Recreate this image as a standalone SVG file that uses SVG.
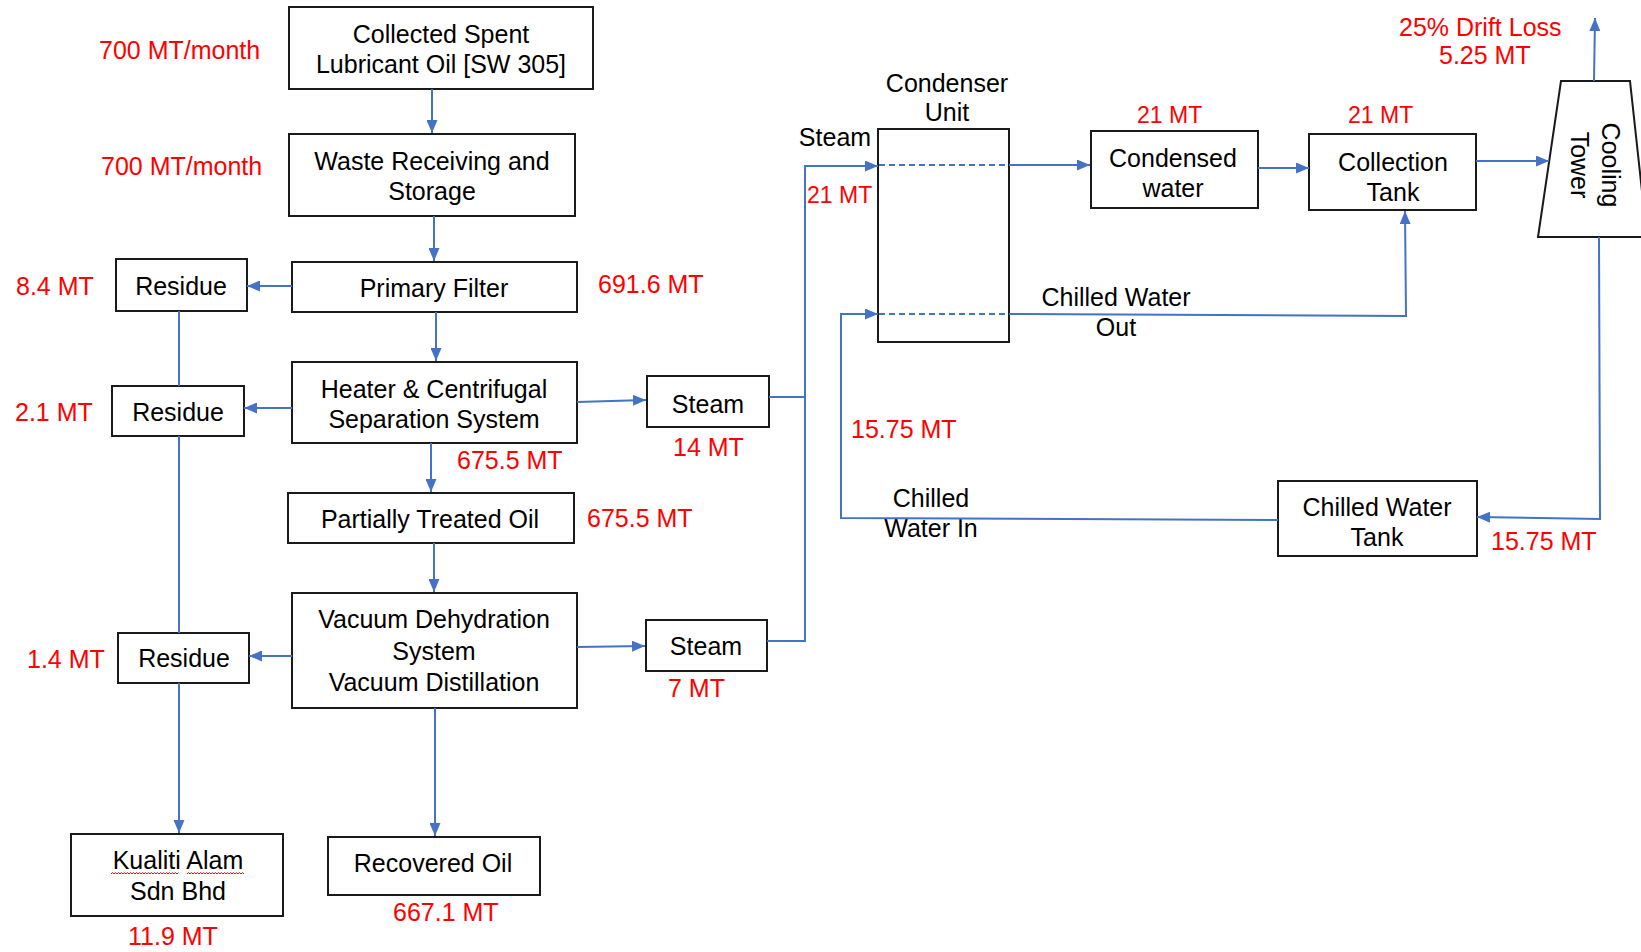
<svg xmlns="http://www.w3.org/2000/svg" width="1641" height="952" viewBox="0 0 1641 952">
<defs>
<marker id="ah" markerUnits="userSpaceOnUse" markerWidth="13" markerHeight="11" refX="13" refY="5.5" orient="auto">
<path d="M0,0 L13,5.5 L0,11 z" fill="#4472C4"/>
</marker>
<style>
.box{fill:#fff;stroke:#1a1a1a;stroke-width:2}
.t{font-family:"Liberation Sans",Arial,sans-serif;font-size:25px;fill:#000;text-anchor:middle}
.r{font-family:"Liberation Sans",Arial,sans-serif;font-size:25px;fill:#FF0000}
.ln{fill:none;stroke:#4472C4;stroke-width:2}
.ar{fill:none;stroke:#4472C4;stroke-width:2;marker-end:url(#ah)}
.ds{fill:none;stroke:#4472C4;stroke-width:2;stroke-dasharray:6 4}
</style>
</defs>
<rect width="1641" height="952" fill="#fff"/>

<g id="n-collected">
<rect class="box" x="289" y="7" width="304" height="82"/>
<text class="t" x="441" y="43">Collected Spent</text>
<text class="t" x="441" y="73">Lubricant Oil [SW 305]</text>
<text class="r" x="99" y="59">700 MT/month</text>
</g>
<g id="n-waste">
<rect class="box" x="289" y="134" width="286" height="82"/>
<text class="t" x="432" y="170">Waste Receiving and</text>
<text class="t" x="432" y="200">Storage</text>
<text class="r" x="101" y="175">700 MT/month</text>
</g>
<g id="n-primary">
<rect class="box" x="292" y="262" width="285" height="50"/>
<text class="t" x="434" y="297">Primary Filter</text>
<text class="r" x="598" y="293">691.6 MT</text>
</g>
<g id="n-residue1">
<rect class="box" x="116" y="259" width="131" height="52"/>
<text class="t" x="181" y="295">Residue</text>
<text class="r" x="16" y="295">8.4 MT</text>
</g>
<g id="n-heater">
<rect class="box" x="292" y="362" width="285" height="81"/>
<text class="t" x="434" y="398">Heater &amp; Centrifugal</text>
<text class="t" x="434" y="428">Separation System</text>
<text class="r" x="457" y="469">675.5 MT</text>
</g>
<g id="n-residue2">
<rect class="box" x="112" y="386" width="132" height="50"/>
<text class="t" x="178" y="421">Residue</text>
<text class="r" x="15" y="421">2.1 MT</text>
</g>
<g id="n-steam1">
<rect class="box" x="647" y="376" width="122" height="51"/>
<text class="t" x="708" y="413">Steam</text>
<text class="r" x="673" y="456">14 MT</text>
</g>
<g id="n-partial">
<rect class="box" x="288" y="493" width="286" height="50"/>
<text class="t" x="430" y="528">Partially Treated Oil</text>
<text class="r" x="587" y="527">675.5 MT</text>
</g>
<g id="n-vacuum">
<rect class="box" x="292" y="593" width="285" height="115"/>
<text class="t" x="434" y="628">Vacuum Dehydration</text>
<text class="t" x="434" y="660">System</text>
<text class="t" x="434" y="691">Vacuum Distillation</text>
</g>
<g id="n-residue3">
<rect class="box" x="118" y="633" width="131" height="50"/>
<text class="t" x="184" y="667">Residue</text>
<text class="r" x="27" y="668">1.4 MT</text>
</g>
<g id="n-steam2">
<rect class="box" x="646" y="620" width="121" height="51"/>
<text class="t" x="706" y="655">Steam</text>
<text class="r" x="668" y="697">7 MT</text>
</g>
<g id="n-recovered">
<rect class="box" x="328" y="837" width="212" height="58"/>
<text class="t" x="433" y="872">Recovered Oil</text>
<text class="r" x="393" y="921">667.1 MT</text>
</g>
<g id="n-kualiti">
<rect class="box" x="71" y="834" width="212" height="82"/>
<text class="t" x="178" y="869">Kualiti Alam</text>
<text class="t" x="178" y="900">Sdn Bhd</text>
<path d="M111,874 l1.5,-1.5 l1.5,1.5 l1.5,-1.5 l1.5,1.5 l1.5,-1.5 l1.5,1.5 l1.5,-1.5 l1.5,1.5 l1.5,-1.5 l1.5,1.5 l1.5,-1.5 l1.5,1.5 l1.5,-1.5 l1.5,1.5 l1.5,-1.5 l1.5,1.5 l1.5,-1.5 l1.5,1.5 l1.5,-1.5 l1.5,1.5 l1.5,-1.5 l1.5,1.5 l1.5,-1.5 l1.5,1.5 l1.5,-1.5 l1.5,1.5 l1.5,-1.5 l1.5,1.5 l1.5,-1.5 l1.5,1.5 l1.5,-1.5 l1.5,1.5 l1.5,-1.5 l1.5,1.5 l1.5,-1.5 l1.5,1.5 l1.5,-1.5 l1.5,1.5 l1.5,-1.5 l1.5,1.5 l1.5,-1.5 l1.5,1.5 l1.5,-1.5 l1.5,1.5 l1.5,-1.5" fill="none" stroke="#FF0000" stroke-width="1"/>
<path d="M187,874 l1.5,-1.5 l1.5,1.5 l1.5,-1.5 l1.5,1.5 l1.5,-1.5 l1.5,1.5 l1.5,-1.5 l1.5,1.5 l1.5,-1.5 l1.5,1.5 l1.5,-1.5 l1.5,1.5 l1.5,-1.5 l1.5,1.5 l1.5,-1.5 l1.5,1.5 l1.5,-1.5 l1.5,1.5 l1.5,-1.5 l1.5,1.5 l1.5,-1.5 l1.5,1.5 l1.5,-1.5 l1.5,1.5 l1.5,-1.5 l1.5,1.5 l1.5,-1.5 l1.5,1.5 l1.5,-1.5 l1.5,1.5 l1.5,-1.5 l1.5,1.5 l1.5,-1.5 l1.5,1.5 l1.5,-1.5 l1.5,1.5 l1.5,-1.5 l1.5,1.5" fill="none" stroke="#FF0000" stroke-width="1"/>
<text class="r" x="128" y="945">11.9 MT</text>
</g>
<g id="n-condenser">
<rect class="box" x="878" y="129" width="131" height="213"/>
<text class="t" x="947" y="92">Condenser</text>
<text class="t" x="947" y="121">Unit</text>
<text class="t" x="835" y="146">Steam</text>
<text class="r" x="807" y="203" style="font-size:23px">21 MT</text>
</g>
<g id="n-condensed">
<rect class="box" x="1091" y="131" width="167" height="77"/>
<text class="t" x="1173" y="167">Condensed</text>
<text class="t" x="1173" y="197">water</text>
<text class="r" x="1137" y="123" style="font-size:23px">21 MT</text>
</g>
<g id="n-collection">
<rect class="box" x="1309" y="134" width="167" height="76"/>
<text class="t" x="1393" y="171">Collection</text>
<text class="t" x="1393" y="201">Tank</text>
<text class="r" x="1348" y="123" style="font-size:23px">21 MT</text>
</g>
<g id="n-cooling">
<path class="box" d="M1561,81 L1630,81 L1647,237 L1538,237 Z"/>
<g transform="translate(1597,165) rotate(90)">
<text class="t" x="0" y="-5">Cooling</text>
<text class="t" x="0" y="26">Tower</text>
</g>
<text class="r" x="1399" y="36">25% Drift Loss</text>
<text class="r" x="1439" y="64">5.25 MT</text>
</g>
<g id="n-chilledtank">
<rect class="box" x="1278" y="481" width="199" height="75"/>
<text class="t" x="1377" y="516">Chilled Water</text>
<text class="t" x="1377" y="546">Tank</text>
<text class="r" x="1491" y="550">15.75 MT</text>
</g>
<g id="labels">
<text class="t" x="1116" y="306">Chilled Water</text>
<text class="t" x="1116" y="336">Out</text>
<text class="r" x="851" y="438">15.75 MT</text>
<text class="t" x="931" y="507">Chilled</text>
<text class="t" x="931" y="537">Water In</text>
</g>

<g id="connectors">
<path class="ar" d="M432,89 L432,133"/>
<path class="ar" d="M434,216 L434,261"/>
<path class="ar" d="M436,312 L436,361"/>
<path class="ar" d="M431,443 L431,492"/>
<path class="ar" d="M434,543 L434,592"/>
<path class="ar" d="M435,708 L435,836"/>
<path class="ar" d="M292,286 L247,286"/>
<path class="ar" d="M292,408 L244,408"/>
<path class="ar" d="M292,656 L249,656"/>
<path class="ln" d="M179,311 L179,386"/>
<path class="ln" d="M179,436 L179,633"/>
<path class="ar" d="M179,683 L179,833"/>
<path class="ar" d="M577,402 L646,400"/>
<path class="ar" d="M577,647 L645,646"/>
<path class="ln" d="M769,397 L805,397"/>
<path class="ar" d="M767,641 L805,641 L805,166 L878,166"/>
<path class="ds" d="M879,165 L1008,165"/>
<path class="ar" d="M1009,165 L1090,165"/>
<path class="ar" d="M1258,168 L1309,168"/>
<path class="ar" d="M1476,161 L1549,161"/>
<path class="ar" d="M1594,81 L1595,18"/>
<path class="ar" d="M1278,520 L841,518 L841,314 L878,314"/>
<path class="ds" d="M879,314 L1008,314"/>
<path class="ar" d="M1009,314 L1406,316 L1405,211"/>
<path class="ar" d="M1599,237 L1600,519 L1477,517"/>
</g>
</svg>
